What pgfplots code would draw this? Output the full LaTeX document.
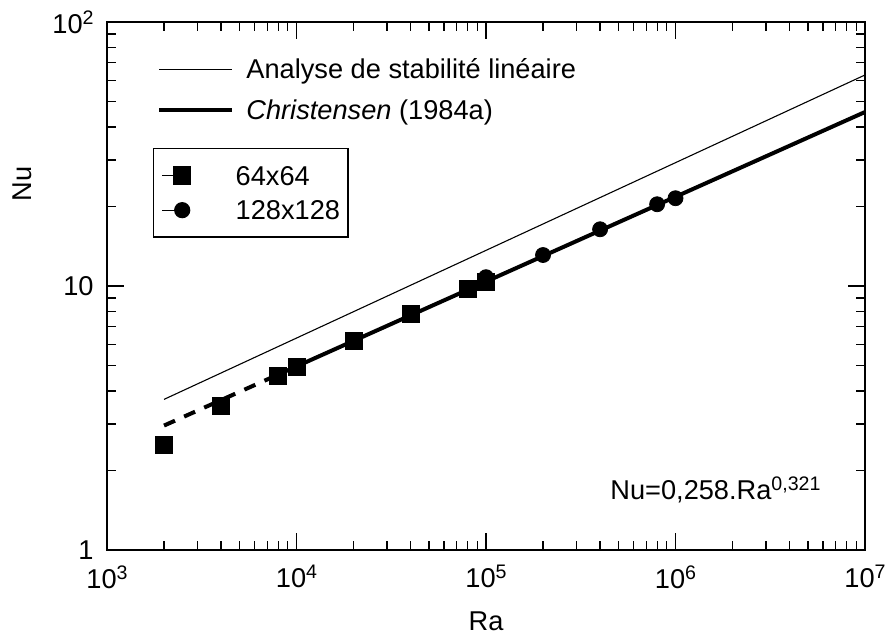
\documentclass[border=0pt]{standalone}
\usepackage{fontspec}
\setmainfont{Liberation Sans}
\usepackage{pgfplots}
\pgfplotsset{compat=1.18}
\newcommand\sups[1]{\raisebox{4.5pt}{\fontsize{9.8}{11}\selectfont #1}}
\newcommand\bigf{\fontsize{13.6}{16}\selectfont}
\pgfplotsset{
  lineleg/.style={legend image code/.code={\draw[##1] (0pt,0pt) -- (36.5pt,0pt);}},
  markleg/.style={legend image code/.code={\path (-10pt,0pt) -- (0pt,0pt); \draw[##1] plot coordinates {(0pt,0pt)};}},
}
\begin{document}
\bigf
\begin{tikzpicture}[font=\bigf]
\begin{axis}[
  width=379pt, height=264pt, scale only axis,
  xmode=log, ymode=log,
  xmin=1e3, xmax=1e7, ymin=1, ymax=100,
  clip=false, font=\bigf,
  /pgf/number format/assume math mode=true,
  xtick={1e3,1e4,1e5,1e6,1e7},
  xticklabels={10\sups{3},10\sups{4},10\sups{5},10\sups{6},10\sups{7}},
  ytick={1,10,100},
  yticklabels={1,10,10\sups{2}},
  minor xtick={2e3,3e3,4e3,5e3,6e3,7e3,8e3,9e3,2e4,3e4,4e4,5e4,6e4,7e4,8e4,9e4,2e5,3e5,4e5,5e5,6e5,7e5,8e5,9e5,2e6,3e6,4e6,5e6,6e6,7e6,8e6,9e6},
  minor ytick={2,3,4,5,6,7,8,9,20,30,40,50,60,70,80,90},
  major tick length=8.5pt, minor tick length=4.5pt,
  tick style={black, line width=0.6pt},
  axis line style={line width=0.75pt},
  tick align=inside,
  every tick label/.append style={font=\bigf},
  xticklabel style={yshift=-3pt},
  yticklabel style={xshift=-2pt},
  legend style={draw=none, fill=none, inner sep=0pt, font=\bigf,
    at={(rel axis cs:0.066,0.930)}, anchor=north west,
    row sep=10.5pt, column sep=0pt,
    nodes={inner sep=0pt, text height=9.8pt, text depth=0pt}},
  legend cell align=left,
  /tikz/every odd column/.append style={column sep=6pt},
]
\addplot[black, line width=0.55pt, lineleg] coordinates {(2000,3.72) (1e7,63)};
\addlegendentry{Analyse de stabilité linéaire}
\addplot[black, line width=2pt, lineleg] coordinates {(1e4,4.96) (1e7,45.6)};
\addlegendentry{\textit{Christensen} (1984a)}
\addplot[black, line width=2pt, dash pattern=on 6pt off 5pt, forget plot] coordinates {(2000,2.96) (1e4,4.96)};
\node[anchor=base west, inner sep=0pt, font=\bigf] at (rel axis cs:0.6636,0.0947) {Nu=0,258.Ra\sups{0,321}};
\node[anchor=center, font=\bigf] at (rel axis cs:0.5,-0.1345) {Ra};
\node[anchor=center, rotate=90, font=\bigf] at (rel axis cs:-0.112,0.693) {Nu};
\end{axis}
\begin{axis}[
  width=379pt, height=264pt, scale only axis,
  xmode=log, ymode=log,
  xmin=1e3, xmax=1e7, ymin=1, ymax=100,
  clip=false, hide axis, font=\bigf,
  legend style={draw=black, line width=0.6pt, fill=white, font=\bigf,
    inner xsep=4pt, inner ysep=8.5pt,
    at={(rel axis cs:0.0607,0.761)}, anchor=north west,
    row sep=7.5pt, column sep=0pt,
    nodes={inner sep=0pt, text height=9.8pt, text depth=0pt},
    /tikz/every odd column/.append style={column sep=22.5pt}},
  legend cell align=left,
]
\addplot[black, only marks, mark=square*, mark size=4.25pt, markleg]
  coordinates {(2000,2.50) (4000,3.51) (8000,4.56) (10000,4.92) (20000,6.19) (40000,7.83) (80000,9.74) (100000,10.35)};
\addlegendentry{64x64}
\addplot[black, only marks, mark=*, mark size=3.75pt, markleg]
  coordinates {(100000,10.8) (200000,13.1) (400000,16.4) (800000,20.4) (1000000,21.5)};
\addlegendentry{128x128}
\end{axis}
\pgfresetboundingbox
\path[use as bounding box] ([shift={(-53.5pt,-42.5pt)}]current axis.south west) rectangle ([shift={(11.5pt,11pt)}]current axis.north east);
\end{tikzpicture}
\end{document}
